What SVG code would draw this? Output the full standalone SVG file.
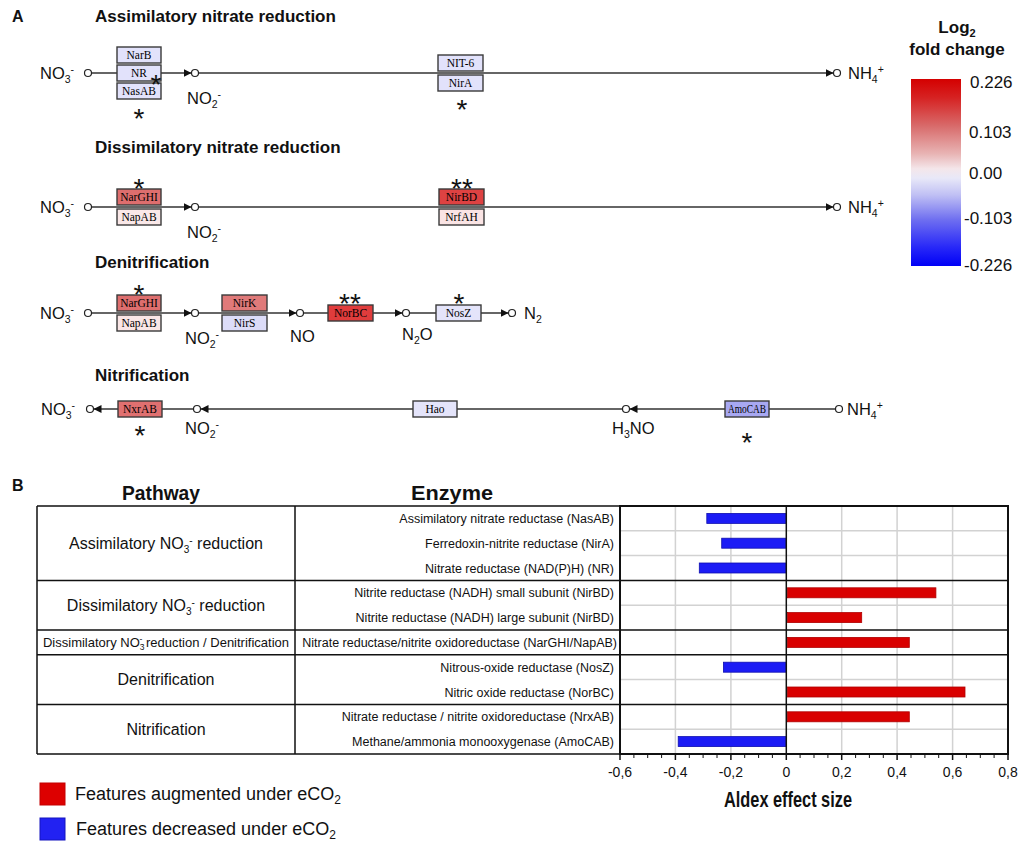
<svg xmlns="http://www.w3.org/2000/svg" width="1021" height="848" viewBox="0 0 1021 848">
<defs>
<marker id="arr" markerUnits="userSpaceOnUse" markerWidth="9" markerHeight="9" refX="8" refY="4" orient="auto"><path d="M0,0 L8,4 L0,8 z" fill="#111"/></marker>
<linearGradient id="cb" x1="0" y1="0" x2="0" y2="1">
<stop offset="0" stop-color="#d40000"/>
<stop offset="0.1" stop-color="#d62222"/>
<stop offset="0.25" stop-color="#d86a6a"/>
<stop offset="0.4" stop-color="#e8b4b4"/>
<stop offset="0.48" stop-color="#f4e6ea"/>
<stop offset="0.53" stop-color="#e8e8f8"/>
<stop offset="0.62" stop-color="#c0c0f4"/>
<stop offset="0.75" stop-color="#7070f0"/>
<stop offset="0.9" stop-color="#2828f8"/>
<stop offset="1" stop-color="#0000f6"/>
</linearGradient>
</defs>
<style>
text{font-family:"Liberation Sans",Arial,sans-serif;fill:#111}
.h{font-weight:bold;font-size:17px}
.m{font-size:16.5px}
.s{font-size:10.5px}
.e rect{stroke:#3a3a3a;stroke-width:1.4}
.e text{font-family:"Liberation Serif","Times New Roman",serif;font-size:11.5px;text-anchor:middle;fill:#000}
.c{fill:#fff;stroke:#222;stroke-width:1.2}
.la{stroke:#333;stroke-width:1.4;fill:none;marker-end:url(#arr)}
.st{font-size:28px;text-anchor:middle}
.lav{fill:#e2e2fb}
.tb{stroke:#111;stroke-width:1.5;fill:none}
.fr{stroke:#111;stroke-width:2;fill:none}
.gr{stroke:#d2d2d2;stroke-width:1.5;fill:none}
.en{font-size:12.5px;text-anchor:end}
.pw{font-size:16px;text-anchor:middle}
.tk{font-size:14px;text-anchor:middle}
.bb{fill:#1c1cf5;stroke:#1010b0;stroke-width:0.8}
.br{fill:#d90000;stroke:#b00000;stroke-width:0.8}
</style>
<rect width="1021" height="848" fill="#fff"/>

<!-- Panel A titles -->
<text x="12" y="22" font-weight="bold" font-size="16">A</text>
<text class="h" x="95" y="22">Assimilatory nitrate reduction</text>
<text class="h" x="95" y="153">Dissimilatory nitrate reduction</text>
<text class="h" x="95" y="268">Denitrification</text>
<text class="h" x="95" y="381">Nitrification</text>

<!-- connectors -->
<g id="connectors">
<line class="la" x1="91.5" y1="73" x2="191.5" y2="73"/>
<line class="la" x1="198.5" y1="73" x2="833.5" y2="73"/>
<line class="la" x1="91.5" y1="207" x2="191.5" y2="207"/>
<line class="la" x1="198.5" y1="207" x2="833.5" y2="207"/>
<line class="la" x1="91.5" y1="313" x2="191.5" y2="313"/>
<line class="la" x1="198.5" y1="313" x2="296.5" y2="313"/>
<line class="la" x1="303.5" y1="313" x2="402.5" y2="313"/>
<line class="la" x1="409.5" y1="313" x2="508.5" y2="313"/>
<line class="la" x1="835.5" y1="409" x2="629.5" y2="409"/>
<line class="la" x1="622.5" y1="409" x2="200.5" y2="409"/>
<line class="la" x1="193.5" y1="409" x2="93.5" y2="409"/>
</g>

<!-- Row 1 compounds -->
<g id="r1-no3"><circle class="c" cx="88" cy="73" r="3.5"/><text class="m" x="40" y="79">NO<tspan class="s" dy="4">3</tspan><tspan class="s" dy="-10">-</tspan></text></g>
<g id="r1-no2"><circle class="c" cx="195" cy="73" r="3.5"/><text class="m" x="187" y="104">NO<tspan class="s" dy="4">2</tspan><tspan class="s" dy="-10">-</tspan></text></g>
<g id="r1-nh4"><circle class="c" cx="837" cy="73" r="3.5"/><text class="m" x="848" y="79">NH<tspan class="s" dy="4">4</tspan><tspan class="s" dy="-10">+</tspan></text></g>
<!-- Row 1 enzymes -->
<g id="r1-narb" class="e"><rect class="lav" x="117" y="47" width="44" height="16"/><text x="139" y="59">NarB</text></g>
<g id="r1-nr" class="e"><rect class="lav" x="117" y="65" width="44" height="16"/><text x="139" y="77">NR</text></g>
<g id="r1-nasab" class="e"><rect class="lav" x="117" y="83" width="44" height="16"/><text x="139" y="95">NasAB</text></g>
<g id="r1-nit6" class="e"><rect class="lav" x="438" y="55" width="45" height="16"/><text x="460.5" y="67">NIT-6</text></g>
<g id="r1-nira" class="e"><rect class="lav" x="438" y="75" width="45" height="16"/><text x="460.5" y="87">NirA</text></g>
<text class="st" x="156" y="94">*</text>
<text class="st" x="139" y="128">*</text>
<text class="st" x="462" y="119">*</text>

<!-- Row 2 -->
<g id="r2-no3"><circle class="c" cx="88" cy="207" r="3.5"/><text class="m" x="40" y="213">NO<tspan class="s" dy="4">3</tspan><tspan class="s" dy="-10">-</tspan></text></g>
<g id="r2-no2"><circle class="c" cx="195" cy="207" r="3.5"/><text class="m" x="187" y="238">NO<tspan class="s" dy="4">2</tspan><tspan class="s" dy="-10">-</tspan></text></g>
<g id="r2-nh4"><circle class="c" cx="837" cy="207" r="3.5"/><text class="m" x="848" y="213">NH<tspan class="s" dy="4">4</tspan><tspan class="s" dy="-10">+</tspan></text></g>
<g id="r2-narghi" class="e"><rect fill="#de6e6e" x="117" y="189" width="44" height="16"/><text x="139" y="201">NarGHI</text></g>
<g id="r2-napab" class="e"><rect fill="#fae8e8" x="117" y="209" width="44" height="16"/><text x="139" y="221">NapAB</text></g>
<g id="r2-nirbd" class="e"><rect fill="#de4242" x="439" y="189" width="45" height="16"/><text x="461.5" y="201">NirBD</text></g>
<g id="r2-nrfah" class="e"><rect fill="#fae4e4" x="439" y="209" width="45" height="16"/><text x="461.5" y="221">NrfAH</text></g>
<text class="st" x="139" y="198">*</text>
<text class="st" x="462" y="198">**</text>

<!-- Row 3 -->
<g id="r3-no3"><circle class="c" cx="88" cy="313" r="3.5"/><text class="m" x="40" y="319">NO<tspan class="s" dy="4">3</tspan><tspan class="s" dy="-10">-</tspan></text></g>
<g id="r3-no2"><circle class="c" cx="195" cy="313" r="3.5"/><text class="m" x="185" y="344">NO<tspan class="s" dy="4">2</tspan><tspan class="s" dy="-10">-</tspan></text></g>
<g id="r3-no"><circle class="c" cx="300" cy="313" r="3.5"/><text class="m" x="290" y="342">NO</text></g>
<g id="r3-n2o"><circle class="c" cx="406" cy="313" r="3.5"/><text class="m" x="402" y="340">N<tspan class="s" dy="4">2</tspan><tspan dy="-4">O</tspan></text></g>
<g id="r3-n2"><circle class="c" cx="512" cy="313" r="3.5"/><text class="m" x="524" y="319">N<tspan class="s" dy="4">2</tspan></text></g>
<g id="r3-narghi" class="e"><rect fill="#de6e6e" x="117" y="295" width="44" height="16"/><text x="139" y="307">NarGHI</text></g>
<g id="r3-napab" class="e"><rect fill="#fae6e6" x="117" y="315" width="44" height="16"/><text x="139" y="327">NapAB</text></g>
<g id="r3-nirk" class="e"><rect fill="#e07a7a" x="222" y="295" width="45" height="16"/><text x="244.5" y="307">NirK</text></g>
<g id="r3-nirs" class="e"><rect fill="#dcdcf8" x="222" y="315" width="45" height="16"/><text x="244.5" y="327">NirS</text></g>
<g id="r3-norbc" class="e"><rect fill="#e03c3c" x="328" y="305" width="45" height="16"/><text x="350.5" y="317">NorBC</text></g>
<g id="r3-nosz" class="e"><rect fill="#e4e4fa" x="436" y="305" width="45" height="16"/><text x="458.5" y="317">NosZ</text></g>
<text class="st" x="139" y="304">*</text>
<text class="st" x="350" y="313">**</text>
<text class="st" x="459" y="313">*</text>

<!-- Row 4 -->
<g id="r4-no3"><circle class="c" cx="90" cy="409" r="3.5"/><text class="m" x="41" y="415">NO<tspan class="s" dy="4">3</tspan><tspan class="s" dy="-10">-</tspan></text></g>
<g id="r4-no2"><circle class="c" cx="197" cy="409" r="3.5"/><text class="m" x="185" y="434">NO<tspan class="s" dy="4">2</tspan><tspan class="s" dy="-10">-</tspan></text></g>
<g id="r4-h3no"><circle class="c" cx="626" cy="409" r="3.5"/><text class="m" x="612" y="434">H<tspan class="s" dy="4">3</tspan><tspan dy="-4">NO</tspan></text></g>
<g id="r4-nh4"><circle class="c" cx="839" cy="409" r="3.5"/><text class="m" x="847" y="415">NH<tspan class="s" dy="4">4</tspan><tspan class="s" dy="-10">+</tspan></text></g>
<g id="r4-nxrab" class="e"><rect fill="#e07070" x="118" y="401" width="44" height="16"/><text x="140" y="413">NxrAB</text></g>
<g id="r4-hao" class="e"><rect fill="#e4e4fa" x="413" y="401" width="44" height="16"/><text x="435" y="413">Hao</text></g>
<g id="r4-amocab" class="e"><rect fill="#a8a8f2" x="725" y="401" width="44" height="16"/><text x="747" y="413" textLength="38" lengthAdjust="spacingAndGlyphs">AmoCAB</text></g>
<text class="st" x="140" y="445">*</text>
<text class="st" x="747" y="452">*</text>

<!-- Color bar legend -->
<g id="colorbar">
<text x="957" y="33" font-weight="bold" font-size="17" text-anchor="middle">Log<tspan font-size="11" dy="4">2</tspan></text>
<text x="957" y="55" font-weight="bold" font-size="17" text-anchor="middle">fold change</text>
<rect x="911" y="79" width="50" height="187" fill="url(#cb)"/>
<text x="970" y="88" font-size="17">0.226</text>
<text x="969" y="138" font-size="17">0.103</text>
<text x="969" y="179" font-size="17">0.00</text>
<text x="964" y="224" font-size="17">-0.103</text>
<text x="964" y="271" font-size="17">-0.226</text>
</g>

<!-- Panel B -->
<text x="12" y="491" font-weight="bold" font-size="16">B</text>
<text x="161" y="500" font-weight="bold" font-size="21" text-anchor="middle" textLength="78" lengthAdjust="spacingAndGlyphs">Pathway</text>
<text x="452" y="500" font-weight="bold" font-size="21" text-anchor="middle" textLength="82" lengthAdjust="spacingAndGlyphs">Enzyme</text>

<g id="chart-grid">
<path class="gr" d="M675.4,506V754M730.9,506V754M841.7,506V754M897.1,506V754M952.6,506V754"/>
<path class="gr" d="M620,530.8H1008M620,555.6H1008M620,605.2H1008M620,679.6H1008M620,729.2H1008"/>
</g>

<g id="bars">
<rect class="bb" x="706.8" y="513.4" width="79.5" height="10"/>
<rect class="bb" x="721.7" y="538.2" width="64.6" height="10"/>
<rect class="bb" x="699.3" y="563" width="87" height="10"/>
<rect class="br" x="787.5" y="587.8" width="148.4" height="10"/>
<rect class="br" x="787.5" y="612.6" width="74.2" height="10"/>
<rect class="br" x="787.5" y="637.4" width="121.8" height="10"/>
<rect class="bb" x="723.4" y="662.2" width="62.9" height="10"/>
<rect class="br" x="787.5" y="687" width="177.5" height="10"/>
<rect class="br" x="787.5" y="711.8" width="121.8" height="10"/>
<rect class="bb" x="678.2" y="736.6" width="108.1" height="10"/>
</g>

<g id="table">
<path class="tb" d="M37,506H620M37,754H620M37,506V754M295,506V754M37,580.4H1008M37,630H1008M37,654.8H1008M37,704.4H1008"/>
<path class="fr" d="M620,506H1008V754H620Z"/>
<path class="tb" d="M786.3,506V754"/>
</g>

<g id="axis">
<path class="tb" d="M620,754V760M675.4,754V760M730.9,754V760M786.3,754V760M841.7,754V760M897.1,754V760M952.6,754V760M1008,754V760"/>
<path stroke="#111" stroke-width="1" d="M633.9,754V758M647.7,754V758M661.6,754V758M689.3,754V758M703.1,754V758M717,754V758M744.7,754V758M758.6,754V758M772.4,754V758M800.1,754V758M814,754V758M827.9,754V758M855.6,754V758M869.4,754V758M883.3,754V758M911,754V758M924.9,754V758M938.7,754V758M966.4,754V758M980.3,754V758M994.1,754V758"/>
<text class="tk" x="620" y="777">-0,6</text>
<text class="tk" x="675.4" y="777">-0,4</text>
<text class="tk" x="730.9" y="777">-0,2</text>
<text class="tk" x="786.3" y="777">0</text>
<text class="tk" x="841.7" y="777">0,2</text>
<text class="tk" x="897.1" y="777">0,4</text>
<text class="tk" x="952.6" y="777">0,6</text>
<text class="tk" x="1008" y="777">0,8</text>
<text x="788" y="807" font-weight="bold" font-size="22" text-anchor="middle" textLength="128" lengthAdjust="spacingAndGlyphs">Aldex effect size</text>
</g>

<g id="pathways">
<text class="pw" x="166" y="549">Assimilatory NO<tspan font-size="10" dy="4">3</tspan><tspan font-size="10" dy="-9">-</tspan><tspan dy="5"> reduction</tspan></text>
<text class="pw" x="166" y="611">Dissimilatory NO<tspan font-size="10" dy="4">3</tspan><tspan font-size="10" dy="-9">-</tspan><tspan dy="5"> reduction</tspan></text>
<text x="166" y="647" font-size="13" text-anchor="middle">Dissimilatory  NO<tspan font-size="8.5" dy="3">3</tspan><tspan font-size="8.5" dx="-5" dy="-8">-</tspan><tspan dy="5"> reduction / Denitrification</tspan></text>
<text class="pw" x="166" y="685">Denitrification</text>
<text class="pw" x="166" y="735">Nitrification</text>
</g>

<g id="enzymes">
<text class="en" x="614" y="523">Assimilatory nitrate reductase (NasAB)</text>
<text class="en" x="614" y="547.5">Ferredoxin-nitrite reductase (NirA)</text>
<text class="en" x="614" y="572.5">Nitrate reductase (NAD(P)H) (NR)</text>
<text class="en" x="614" y="597">Nitrite reductase (NADH) small subunit (NirBD)</text>
<text class="en" x="614" y="622">Nitrite reductase (NADH) large subunit (NirBD)</text>
<text class="en" x="617" y="647">Nitrate reductase/nitrite oxidoreductase (NarGHI/NapAB)</text>
<text class="en" x="614" y="671.5">Nitrous-oxide reductase (NosZ)</text>
<text class="en" x="614" y="696.5">Nitric oxide reductase (NorBC)</text>
<text class="en" x="614" y="721">Nitrate reductase / nitrite oxidoreductase (NrxAB)</text>
<text class="en" x="614" y="746">Methane/ammonia monooxygenase (AmoCAB)</text>
</g>

<g id="legend">
<rect x="40" y="783" width="25" height="22" fill="#dd0000" stroke="#c40000"/>
<text x="75" y="800" font-size="18">Features augmented under eCO<tspan font-size="12" dy="4">2</tspan></text>
<rect x="40" y="818" width="25" height="22" fill="#2222f2" stroke="#1515c0"/>
<text x="76" y="835" font-size="18">Features decreased under eCO<tspan font-size="12" dy="4">2</tspan></text>
</g>
</svg>
